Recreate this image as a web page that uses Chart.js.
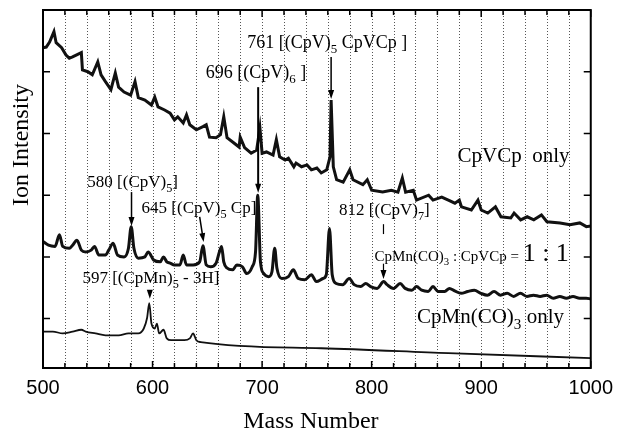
<!DOCTYPE html>
<html><head><meta charset="utf-8">
<script src="https://cdn.jsdelivr.net/npm/chart.js@4.4.0/dist/chart.umd.min.js"></script>
<style>html,body{margin:0;padding:0;background:#fff;}canvas{display:block;}</style>
</head><body>
<canvas id="c" width="621" height="430"></canvas>
<script>
// ---- data ----
const massTop = [500,503,506,510,512,517,521,524,527,535,536,541,545,550,553,557,562,566,569,574,580,584,587,593,599,602,605,611,616,620,623,628,631,634,640,646,649,652,658,662,665,668,674,679,680,684,690,695,698,700,704,710,713,716,721,724,729,731,736,741,745,750,754,759,762,763,765,768,774,780,783,792,796,800,810,818,824,828,831,838,841,852,856,864,870,876,880,882,891,897,900,906,913,918,927,930,936,942,948,955,960,972,981,990,996,1000];
const intTop = [53.9,54.0,54.8,56.5,54.7,53.9,52.7,52.2,52.4,53.1,50.3,50.0,49.5,51.6,49.5,48.4,47.1,49.8,47.5,46.7,46.2,48.4,45.8,45.4,44.6,45.9,44.3,43.8,43.3,42.2,42.7,41.7,43.0,41.4,40.6,41.1,41.4,39.4,39.3,39.8,42.7,39.3,38.5,37.8,39.4,37.7,36.8,37.3,40.9,36.8,37.0,36.5,39.0,36.2,35.7,36.0,34.6,35.2,34.6,34.9,34.1,34.4,33.6,34.1,36.2,45.4,34.6,32.5,32.1,34.1,32.5,31.7,32.5,30.8,30.5,30.8,30.5,32.8,30.5,30.8,29.2,30.0,29.2,29.7,29.2,28.7,29.2,28.1,27.6,29.2,27.6,27.1,28.1,26.5,26.3,27.1,26.0,26.5,26.0,26.8,25.7,25.5,25.2,25.5,24.9,25.0];

const massMix = [500,505,511,515,518,524,527,531,535,539,544,547,551,557,560,564,568,574,578,580.5,583,587,593,596,601,607,610,613,616,620,625,628,631,637,643,646,649,653,658,661,663,665,668,673,677,682,686,691,694,696,698.5,701.5,706,709,711.5,713.5,718,724,728.5,733,739,745,749.5,755.6,758.6,761.5,764,767.6,773.6,779.5,784,790,794.6,799,805,811,814,820,826,830.6,836.7,841,845.7,851.6,856,860.6,866.7,871,875.7,881.7,887.7,893.7,899.7,905.7,911.7,917.7,923.7,929.7,935.8,941.7,947.7,953.8,959.7,965.8,971.8,977.7,983.8,989.8,995.8,1000];
const intMix = [22.5,21.9,21.7,23.6,21.7,21.4,21.9,22.7,21.1,20.8,21.1,21.7,20.3,20.3,21.1,22.2,20.3,20.0,21.4,24.9,21.4,19.8,20.0,20.8,19.5,19.2,20.0,19.2,19.0,18.7,18.7,20.3,18.7,18.7,19.2,21.8,18.7,18.4,19.0,20.8,21.7,19.2,18.2,17.9,18.7,18.4,17.3,18.4,20.8,30.0,19.2,17.3,16.8,17.6,21.4,18.2,16.5,16.8,17.9,16.5,16.3,17.1,16.0,16.5,17.1,24.6,17.1,15.7,15.5,16.5,15.5,15.2,15.7,15.2,14.9,16.0,15.5,14.9,15.7,14.9,14.6,15.2,14.6,14.4,15.2,14.4,14.4,14.9,14.5,14.1,14.4,14.6,14.1,13.8,14.4,13.8,14.1,13.6,14.1,13.6,13.8,13.6,13.8,13.3,13.6,13.3,13.6,13.3,13.3,13.2];

const massMn = [500,509,518,527,535,539,548,557,563,569,578,587,592,595,597,599,602,604,606,610,613,617,623,629,634,637,640,644,754,870,1000];
const intMn = [7.9,7.9,7.6,7.9,8.2,7.9,7.6,7.3,7.3,7.3,7.6,7.6,8.4,10.1,12.5,9.2,8.4,9.2,7.6,8.2,6.8,6.5,6.5,6.5,6.8,7.6,6.5,6.2,5.2,4.4,3.6];

const xTickLabels = ['500','600','700','800','900','1000'];
const yTickValues = [10,20,30,40,50];

// ---- annotation layout (separate from data) ----
const SERIF = '"Liberation Serif","Times New Roman",serif';
const labels = [
  {segs:[{t:'761 [(CpV)'},{t:'5',sub:1},{t:' CpVCp ]'}], m:686.5, v:53.9, size:18},
  {segs:[{t:'696 [(CpV)'},{t:'6',sub:1},{t:' ]'}], m:648.6, v:49.0, size:18},
  {segs:[{t:'580 [(CpV)'},{t:'5',sub:1},{t:']'}], m:540.5, v:31.3, size:17},
  {segs:[{t:'645 [(CpV)'},{t:'5',sub:1},{t:' Cp]'}], m:590, v:27.1, size:17},
  {segs:[{t:'812 [(CpV)'},{t:'7',sub:1},{t:']'}], m:770.3, v:26.8, size:17},
  {segs:[{t:'CpMn(CO)'},{t:'3',sub:1},{t:' : CpVCp = '},{t:'1 : 1',size:26}], m:802.7, v:19.3, size:15},
  {segs:[{t:'597 [(CpMn)'},{t:'5',sub:1},{t:' - 3H]'}], m:536, v:15.8, size:17},
  {segs:[{t:'CpVCp  only'}], m:878.4, v:35.4, size:21},
  {segs:[{t:'CpMn(CO)'},{t:'3',sub:1},{t:' only'}], m:841.4, v:9.3, size:21}
];
const arrows = [
  {m1:763, v1:52.4, m2:763, v2:45.6, w:1.5, head:true},
  {m1:696.4, v1:47.5, m2:696.4, v2:30.4, w:2, head:true},
  {m1:580.8, v1:30.5, m2:580.8, v2:25.0, w:1.5, head:true},
  {m1:643, v1:26.5, m2:646.6, v2:22.4, w:1.5, head:true},
  {m1:810.8, v1:25.3, m2:810.8, v2:23.7, w:1.2, head:false},
  {m1:810.8, v1:18.9, m2:810.8, v2:16.4, w:1.2, head:true},
  {m1:597.5, v1:14.5, m2:597.5, v2:13.2, w:1.5, head:true}
];

function drawRich(ctx, segs, x, y, size){
  let cx = x;
  segs.forEach(s=>{
    const fs = s.sub ? size*0.72 : (s.size || size);
    ctx.font = fs + 'px ' + SERIF;
    ctx.fillText(s.t, cx, y + (s.sub ? size*0.28 : 0));
    cx += ctx.measureText(s.t).width;
  });
}
function drawArrow(ctx, x1,y1,x2,y2,w,head){
  ctx.lineWidth = w;
  const ang = Math.atan2(y2-y1, x2-x1);
  const hl = 9, hw = 3;
  const ex = head ? x2 - Math.cos(ang)*hl*0.8 : x2, ey = head ? y2 - Math.sin(ang)*hl*0.8 : y2;
  ctx.beginPath(); ctx.moveTo(x1,y1); ctx.lineTo(ex,ey); ctx.stroke();
  if(head){
    ctx.beginPath();
    ctx.moveTo(x2,y2);
    ctx.lineTo(x2 - Math.cos(ang)*hl - Math.sin(ang)*hw, y2 - Math.sin(ang)*hl + Math.cos(ang)*hw);
    ctx.lineTo(x2 - Math.cos(ang)*hl + Math.sin(ang)*hw, y2 - Math.sin(ang)*hl - Math.cos(ang)*hw);
    ctx.closePath(); ctx.fill();
  }
}

const decor = {
  id:'decor',
  beforeDatasetsDraw(chart){
    const {ctx, chartArea:a, scales:{x}} = chart;
    ctx.save();
    ctx.strokeStyle = '#555'; ctx.lineWidth = 1; ctx.setLineDash([1,2]);
    x.ticks.forEach(t=>{
      if(t.value<=x.min || t.value>=x.max) return;
      const px = Math.round(x.getPixelForValue(t.value))+0.5;
      ctx.beginPath(); ctx.moveTo(px,a.top); ctx.lineTo(px,a.bottom); ctx.stroke();
    });
    ctx.restore();
  },
  afterDatasetsDraw(chart){
    const {ctx, chartArea:a, scales:{x,y}} = chart;
    ctx.save();
    ctx.strokeStyle = '#000'; ctx.fillStyle = '#000';
    ctx.lineWidth = 1.5;
    x.ticks.forEach(t=>{
      const px = x.getPixelForValue(t.value);
      const len = (t.value % 100 === 0) ? 7 : 5;
      ctx.beginPath();
      ctx.moveTo(px,a.bottom); ctx.lineTo(px,a.bottom-len);
      ctx.moveTo(px,a.top); ctx.lineTo(px,a.top+len);
      ctx.stroke();
    });
    yTickValues.forEach(v=>{
      const py = y.getPixelForValue(v);
      ctx.beginPath();
      ctx.moveTo(a.left,py); ctx.lineTo(a.left+7,py);
      ctx.moveTo(a.right,py); ctx.lineTo(a.right-7,py);
      ctx.stroke();
    });
    ctx.lineWidth = 2;
    ctx.strokeRect(a.left, a.top, a.right-a.left, a.bottom-a.top);
    ctx.textBaseline = 'alphabetic'; ctx.textAlign = 'left';
    labels.forEach(l=> drawRich(ctx, l.segs, x.getPixelForValue(l.m), y.getPixelForValue(l.v), l.size));
    arrows.forEach(r=> drawArrow(ctx, x.getPixelForValue(r.m1), y.getPixelForValue(r.v1), x.getPixelForValue(r.m2), y.getPixelForValue(r.v2), r.w, r.head));
    ctx.font = '24px ' + SERIF;
    ctx.textAlign = 'center';
    ctx.fillText('Mass Number', (a.left+a.right)/2 - 6, 428);
    ctx.save();
    ctx.translate(28, 145);
    ctx.rotate(-Math.PI/2);
    ctx.fillText('Ion Intensity', 0, 0);
    ctx.restore();
    ctx.restore();
  }
};

const mk = (ms, vs) => ms.map((m,i)=>({x:m, y:vs[i]}));

new Chart(document.getElementById('c'), {
  type:'line',
  data:{datasets:[
    {label:'CpVCp only', data:mk(massTop,intTop), borderColor:'#111', borderWidth:3, pointRadius:0, tension:0},
    {label:'CpMn(CO)3 : CpVCp = 1 : 1', data:mk(massMix,intMix), borderColor:'#111', borderWidth:3, pointRadius:0, cubicInterpolationMode:'monotone'},
    {label:'CpMn(CO)3 only', data:mk(massMn,intMn), borderColor:'#111', borderWidth:1.8, pointRadius:0, cubicInterpolationMode:'monotone'}
  ]},
  options:{
    responsive:false, animation:false, devicePixelRatio:1,
    layout:{padding:{left:43, right:23, top:10, bottom:0}},
    plugins:{legend:{display:false}, tooltip:{enabled:false}},
    scales:{
      x:{type:'linear', min:500, max:1000,
        ticks:{stepSize:20, autoSkip:false, maxRotation:0, color:'#000', padding:8,
          font:{family:'"Liberation Sans",Arial,sans-serif', size:20},
          callback:(v)=> xTickLabels.includes(String(v)) ? String(v) : ''},
        grid:{display:false, drawTicks:false}, border:{display:false},
        afterFit(s){ s.height = 62; }
      },
      y:{type:'linear', min:2, max:60, display:false}
    }
  },
  plugins:[decor]
});
</script>
</body></html>
